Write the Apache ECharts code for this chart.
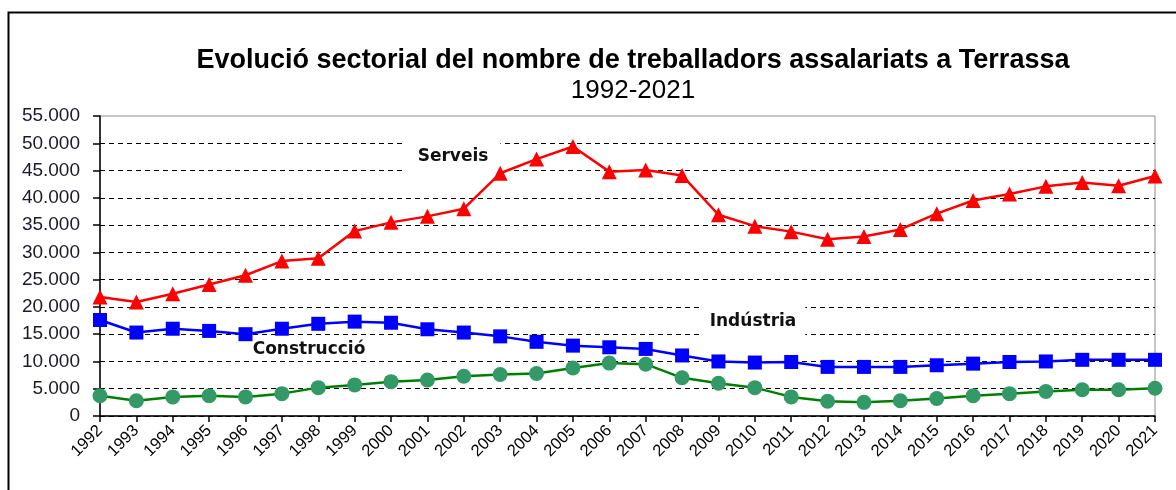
<!DOCTYPE html>
<html>
<head>
<meta charset="utf-8">
<script src="https://cdn.jsdelivr.net/npm/echarts@6/dist/echarts.min.js"></script>
<style>
html,body{margin:0;padding:0;background:#fff;}
#chart{width:1176px;height:490px;}
</style>
</head>
<body>
<div id="chart"></div>
<script>
const years = ['1992','1993','1994','1995','1996','1997','1998','1999','2000','2001','2002','2003','2004','2005','2006','2007','2008','2009','2010','2011','2012','2013','2014','2015','2016','2017','2018','2019','2020','2021'];
const serveis = [21800,20900,22400,24100,25800,28400,28900,33900,35500,36600,38000,44500,47100,49400,44800,45100,44100,36900,34800,33800,32400,32900,34200,37100,39500,40700,42100,42800,42200,44000];
const industria = [17600,15300,16000,15600,15000,16000,16900,17300,17100,15900,15300,14600,13600,12900,12600,12300,11100,10000,9800,9900,9000,9000,9000,9300,9600,9900,10000,10300,10300,10300];
const construccio = [3700,2800,3500,3700,3500,4100,5200,5700,6300,6600,7300,7600,7800,8800,9700,9500,7000,6000,5200,3500,2700,2500,2800,3200,3700,4100,4500,4800,4800,5100];
const titleText = 'Evolució sectorial del nombre de treballadors assalariats a Terrassa';
const subtitleText = '1992-2021';
const seriesNames = ['Serveis','Indústria','Construcció'];

const chart = echarts.init(document.getElementById('chart'), null, {renderer:'canvas'});
const splitColors = [];
for (let i = 0; i < 12; i++) splitColors.push(i === 11 ? 'rgba(0,0,0,0)' : '#000');

chart.setOption({
  animation: false,
  backgroundColor: '#fff',
  title: {
    text: titleText,
    subtext: subtitleText,
    left: 628, textAlign: 'center',
    top: 42,
    itemGap: 4,
    textStyle: {fontFamily: 'Liberation Sans', fontWeight: 'bold', fontSize: 27, color: '#000'},
    subtextStyle: {fontFamily: 'Liberation Sans', fontWeight: 'normal', fontSize: 26, color: '#000'}
  },
  grid: {left: 100, right: 21, top: 116, bottom: 74, show: true, borderColor: '#8c8c8c', borderWidth: 1, containLabel: false},
  xAxis: {
    type: 'category', data: years, boundaryGap: false,
    axisLine: {lineStyle: {color: '#000', width: 1.5}},
    axisTick: {show: true, length: 6, interval: 0, lineStyle: {color: '#000', width: 1.5}},
    axisLabel: {rotate: 45, interval: 0, fontFamily: 'Liberation Sans', fontSize: 16.5, color: '#000', margin: 12},
    splitLine: {show: false}
  },
  yAxis: {
    type: 'value', min: 0, max: 55000, interval: 5000,
    axisLine: {show: true, lineStyle: {color: '#000', width: 1.5}},
    axisTick: {show: true, length: 7, lineStyle: {color: '#000', width: 1.5}},
    axisLabel: {fontFamily: 'Liberation Sans', fontSize: 19, color: '#1a1a2a', margin: 20,
      formatter: v => v === 0 ? '0' : (v/1000).toFixed(0) + '.000'},
    splitLine: {show: true, lineStyle: {color: splitColors, type: [5,4], width: 1.2}}
  },
  series: [
    {name: seriesNames[0], type: 'line', data: serveis, symbol: 'triangle', symbolSize: 15,
     lineStyle: {color: '#ff0000', width: 2.5}, itemStyle: {color: '#ff0000'}, z: 5},
    {name: seriesNames[1], type: 'line', data: industria, symbol: 'rect', symbolSize: 14,
     lineStyle: {color: '#0000ff', width: 2.5}, itemStyle: {color: '#0000ff'}, z: 4},
    {name: seriesNames[2], type: 'line', data: construccio, symbol: 'circle', symbolSize: 15,
     lineStyle: {color: '#008000', width: 2.5}, itemStyle: {color: '#339966'}, z: 3}
  ],
  graphic: [
    {type: 'rect', left: 6, top: 10, shape: {width: 1200, height: 520}, style: {fill: 'none', stroke: '#000', lineWidth: 2}, silent: true, z: 10},
    {type: 'text', x: 453, y: 157, z: 2, style: {text: seriesNames[0], align: 'center', verticalAlign: 'middle',
      font: 'bold 17px "DejaVu Sans"', fill: '#111', backgroundColor: '#fff', padding: [6, 12]}},
    {type: 'text', x: 753, y: 322, z: 2, style: {text: seriesNames[1], align: 'center', verticalAlign: 'middle',
      font: 'bold 17px "DejaVu Sans"', fill: '#111', backgroundColor: '#fff', padding: [8, 9]}},
    {type: 'text', x: 309, y: 350, z: 2, style: {text: seriesNames[2], align: 'center', verticalAlign: 'middle',
      font: 'bold 17px "DejaVu Sans"', fill: '#111'}}
  ]
});
</script>
</body>
</html>
